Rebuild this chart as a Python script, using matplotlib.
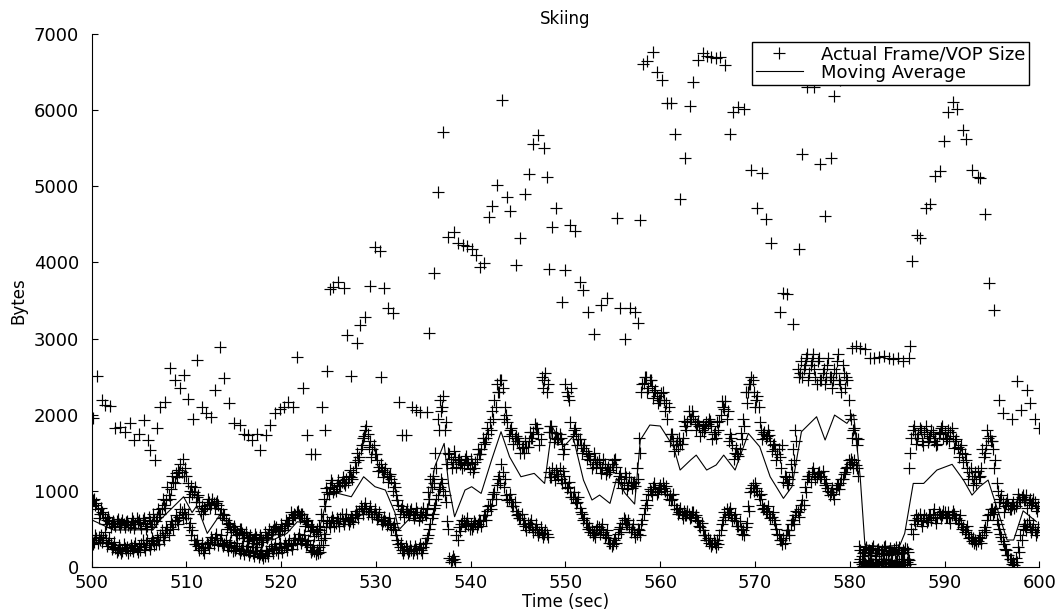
import numpy as np
import matplotlib.pyplot as plt

plt.rcParams['font.family'] = ['DejaVu Sans']

# large frames (time in sec, size in bytes)
i_time = [500.1, 500.6, 501.05, 501.4, 501.9, 502.5, 503.0, 503.5, 504.0, 504.5,
          505.0, 505.5, 505.9, 506.2, 506.7, 506.9, 507.2, 507.7, 508.3, 508.8,
          509.3, 509.7, 510.2, 510.7, 511.1, 511.6, 512.1, 512.6, 513.0, 513.5,
          514.0, 514.5, 515.0, 515.65, 516.1, 516.5, 516.9, 517.4, 517.8, 518.4,
          518.8, 519.3, 519.9, 520.3, 520.75, 521.3, 521.7, 522.3, 522.7, 523.2,
          523.6, 524.3, 524.6, 524.8, 525.1, 525.5, 526.0, 526.6, 526.9, 527.4,
          528.0, 528.3, 528.8, 529.4, 529.9, 530.4, 530.5, 530.8, 531.3, 531.8,
          532.4, 532.7, 533.2, 533.8, 534.2, 534.6, 535.35, 535.6, 536.1, 536.6,
          537.1, 537.6, 538.2, 538.7, 539.2, 539.6, 540.1, 540.6, 541.0, 541.4,
          541.9, 542.3, 542.8, 543.3, 543.8, 544.2, 544.8, 545.2, 545.7, 546.2,
          546.6, 547.1, 547.7, 548.1, 548.3, 548.6, 549.0, 549.6, 550.0, 550.5,
          551.0, 551.5, 551.9, 552.4, 553.0, 553.8, 554.4, 555.4, 555.8, 556.3,
          556.8, 557.3, 557.7, 557.9, 558.2, 558.6, 559.2, 559.7, 560.2, 560.7,
          561.1, 561.6, 562.1, 562.6, 563.1, 563.5, 564.0, 564.5, 564.9, 565.4,
          565.9, 566.3, 566.8, 567.4, 567.7, 568.2, 568.8, 569.6, 570.2, 570.7,
          571.2, 571.7, 572.6, 573.0, 573.4, 574.0, 574.6, 575.0, 575.5, 576.2,
          576.9, 577.4, 578.0, 578.3, 579.0, 580.2, 580.7, 581.1, 581.6, 582.1,
          582.6, 583.1, 583.6, 584.1, 584.6, 585.1, 585.6, 586.2, 586.4, 586.6,
          587.1, 587.4, 588.0, 588.5, 589.0, 589.5, 589.9, 590.4, 590.9, 591.3,
          591.9, 592.3, 592.9, 593.5, 593.7, 594.3, 594.7, 595.2, 595.7, 596.2,
          597.1, 597.6, 598.1, 598.7, 599.0, 599.6, 600.0]
i_size = [1960, 2510, 2200, 2130, 2110, 1820, 1840, 1780, 1890, 1670,
          1750, 1930, 1670, 1540, 1400, 1820, 2100, 2170, 2610, 2460,
          2350, 2520, 2210, 1940, 2720, 2100, 2020, 1970, 2330, 2890,
          2480, 2150, 1890, 1860, 1750, 1730, 1670, 1750, 1540, 1730,
          1860, 2020, 2080, 2100, 2170, 2100, 2760, 2350, 1730, 1490,
          1480, 2100, 1800, 2570, 3650, 3680, 3750, 3670, 3050, 2510,
          2940, 3180, 3290, 3690, 4200, 4150, 2490, 3670, 3400, 3330,
          2170, 1730, 1730, 2100, 2060, 2040, 2030, 3080, 3860, 4920,
          5720, 4340, 4400, 4260, 4230, 4210, 4180, 4100, 3940, 3990,
          4600, 4740, 5020, 6140, 4860, 4670, 3970, 4320, 4900, 5160,
          5550, 5680, 5510, 5120, 3920, 4460, 4720, 3480, 3900, 4490,
          4420, 3750, 3640, 3350, 3060, 3440, 3530, 4580, 3400, 2990,
          3400, 3350, 3210, 4560, 6610, 6640, 6770, 6500, 6400, 6090,
          6090, 5690, 4840, 5370, 6050, 6370, 6660, 6750, 6710, 6700,
          6690, 6700, 6600, 5690, 5980, 6040, 6020, 5210, 4710, 5180,
          4570, 4260, 3350, 3600, 3590, 3190, 4180, 5420, 6310, 6300,
          5300, 4610, 5370, 6190, 6400, 2880, 2900, 2880, 2860, 2740,
          2750, 2760, 2770, 2740, 2730, 2750, 2710, 2740, 2900, 4020,
          4360, 4320, 4710, 4770, 5130, 5200, 5590, 5970, 6110, 6010,
          5740, 5620, 5210, 5120, 5110, 4640, 3730, 3380, 2190, 2020,
          1950, 2440, 2060, 2330, 2150, 1950, 1820]

# mid-size frames, every 0.25 s from 500.125 (one row = 5 s)
p_size = [
    880, 820, 760, 700, 720, 650, 620, 600, 580, 560, 600, 570, 580, 560, 590, 550, 570, 600, 560, 590,
    560, 620, 580, 540, 600, 560, 620, 660, 700, 780, 820, 880, 950, 1020, 1120, 1230, 1280, 1350, 1420, 1300,
    1100, 1000, 960, 1050, 920, 860, 800, 780, 820, 850, 830, 840, 840, 810, 760, 700, 620, 560, 520, 500,
    480, 460, 500, 450, 420, 400, 380, 360, 370, 400, 350, 380, 360, 400, 420, 460, 480, 500, 470, 490,
    510, 540, 580, 620, 660, 700, 720, 680, 700, 650, 600, 560, 520, 480, 460, 440, 480, 620, 800, 980,
    1050, 1100, 1020, 1080, 1060, 1120, 1100, 1150, 1200, 1180, 1250, 1300, 1400, 1550, 1700, 1800, 1750, 1650, 1550, 1480,
    1400, 1320, 1280, 1250, 1220, 1200, 1150, 1100, 950, 820, 760, 740, 720, 700, 740, 690, 700, 720, 680, 660,
    700, 760, 900, 1050, 1100, 1300, 1800, 2050, 2250, 1900, 1500, 1420, 1380, 1450, 1400, 1350, 1300, 1420, 1380, 1290,
    1350, 1300, 1420, 1480, 1550, 1620, 1700, 1750, 1800, 1950, 2100, 2300, 2450, 2350, 2100, 1900, 1800, 1750, 1700, 1650,
    1620, 1560, 1500, 1580, 1650, 1700, 1780, 1820, 1750, 1680, 2350, 2550, 2400, 1850, 1780, 1700, 1680, 1750, 1620, 1550,
    2300, 2200, 2350, 1800, 1750, 1680, 1600, 1560, 1520, 1480, 1400, 1350, 1420, 1380, 1320, 1300, 1350, 1280, 1250, 1350,
    1400, 1320, 1200, 1150, 1100, 1180, 1080, 1120, 1100, 1060, 1150, 1500, 2400, 2500, 2300, 2450, 2380, 2300, 2250, 2200,
    2280, 2200, 2150, 2100, 1750, 1650, 1600, 1550, 1620, 1700, 1850, 1900, 1950, 2050, 1900, 1880, 1850, 1800, 1780, 1900,
    1950, 1850, 1750, 1700, 1800, 2000, 2100, 2180, 2050, 1750, 1600, 1500, 1480, 1550, 1680, 1850, 2150, 2400, 2500, 2300,
    2200, 2100, 1800, 1750, 1700, 1800, 1650, 1600, 1550, 1480, 1450, 1600, 1200, 1100, 1150, 1250, 1400, 1650, 2500, 2700,
    2600, 2750, 2450, 2650, 2800, 2500, 2700, 2450, 2550, 2400, 2650, 2500, 2350, 2600, 2700, 2450, 2300, 2550, 2500, 2200,
    1950, 1800, 1700, 1680, 220, 180, 240, 200, 160, 250, 190, 220, 180, 230, 260, 170, 210, 190, 240, 260,
    230, 180, 220, 250, 200, 1500, 1800, 1750, 1700, 1820, 1650, 1780, 1750, 1700, 1800, 1650, 1600, 1750, 1820, 1700,
    1680, 1800, 1780, 1720, 1650, 1580, 1550, 1500, 1480, 1300, 1250, 1200, 1150, 1100, 1180, 1300, 1450, 1600, 1700, 1650,
    1550, 1400, 1000, 900, 850, 800, 900, 760, 820, 780, 850, 900, 920, 880, 950, 850, 820, 900, 780, 800,
]

# second mid-size batch, every 0.25 s from 500.0
p2_size = [
    800, 900, 840, 640, 780, 700, 560, 660, 520, 610, 540, 630, 520, 620, 520, 610, 520, 650, 510, 640,
    620, 510, 640, 500, 660, 520, 700, 600, 760, 700, 900, 780, 1050, 900, 1200, 1100, 1180, 1250, 1250, 1200,
    1200, 920, 1060, 980, 860, 940, 740, 700, 760, 900, 780, 900, 780, 870, 700, 640, 680, 500, 580, 460,
    540, 420, 440, 500, 380, 460, 340, 420, 320, 440, 300, 420, 330, 460, 380, 500, 440, 540, 520, 440,
    560, 480, 620, 560, 720, 640, 680, 740, 640, 700, 540, 620, 470, 540, 410, 500, 540, 700, 900, 1040,
    960, 1140, 980, 1000, 1140, 1060, 1180, 1080, 1120, 1280, 1150, 1380, 1500, 1450, 1600, 1720, 1850, 1580, 1450, 1600,
    1480, 1260, 1350, 1180, 1300, 1120, 1220, 1000, 1050, 880, 700, 800, 660, 760, 680, 760, 640, 780, 620, 720,
    780, 680, 980, 1150, 1200, 1500, 1950, 2200, 2100, 1800, 1350, 1480, 1300, 1520, 1320, 1420, 1380, 1340, 1460, 1360,
    1420, 1250, 1380, 1550, 1480, 1700, 1640, 1820, 1900, 2050, 2200, 2400, 2300, 2450, 1950, 2000, 1720, 1820, 1620, 1720,
    1700, 1500, 1580, 1650, 1580, 1780, 1700, 1880, 1820, 1600, 2500, 2450, 2300, 1780, 1850, 1640, 1760, 1680, 1700, 1480,
    2400, 2250, 1900, 1720, 1820, 1600, 1680, 1500, 1600, 1420, 1460, 1300, 1500, 1320, 1400, 1240, 1420, 1220, 1320, 1280,
    1320, 1420, 1120, 1240, 1040, 1240, 1020, 1180, 1040, 1120, 1300, 1700, 2300, 2420, 2500, 2350, 2450, 2220, 2330, 2150,
    2200, 2300, 2050, 1950, 1650, 1750, 1520, 1650, 1700, 1620, 1920, 1800, 2050, 1950, 1980, 1800, 1920, 1720, 1860, 1820,
    1880, 1920, 1680, 1780, 1900, 1920, 2180, 2080, 1950, 1650, 1700, 1420, 1560, 1460, 1760, 1950, 2300, 2300, 2400, 2450,
    2100, 2250, 1900, 1680, 1780, 1720, 1740, 1520, 1620, 1400, 1550, 1300, 1120, 1180, 1080, 1350, 1550, 1800, 2600, 2550,
    2500, 2650, 2800, 2550, 2700, 2600, 2400, 2750, 2450, 2600, 2500, 2750, 2500, 2450, 2550, 2800, 2400, 2650, 2350, 2450,
    2000, 1700, 1820, 1600, 280, 140, 200, 260, 220, 180, 280, 150, 240, 190, 170, 280, 160, 250, 200, 180,
    170, 260, 190, 200, 240, 1300, 1700, 1850, 1620, 1750, 1800, 1600, 1850, 1640, 1720, 1780, 1700, 1620, 1760, 1850,
    1780, 1700, 1650, 1820, 1560, 1680, 1450, 1600, 1380, 1400, 1150, 1300, 1080, 1250, 1260, 1200, 1550, 1500, 1800, 1720,
    1650, 1300, 1100, 850, 950, 720, 840, 820, 760, 850, 800, 960, 860, 940, 880, 780, 900, 840, 860, 740,
]

# small frames, every 0.25 s from 500.0 (one row = 5 s)
b_size = [
    360, 330, 380, 400, 420, 380, 350, 310, 300, 260, 250, 230, 240, 210, 250, 260, 230, 250, 270, 240,
    280, 300, 260, 310, 290, 320, 340, 300, 360, 420, 400, 450, 480, 520, 560, 600, 620, 660, 720, 760,
    640, 520, 420, 360, 300, 270, 250, 230, 260, 300, 330, 360, 380, 350, 360, 320, 300, 280, 290, 260,
    270, 250, 240, 230, 220, 230, 210, 200, 190, 210, 180, 170, 160, 150, 190, 220, 240, 250, 230, 260,
    250, 270, 280, 300, 290, 320, 360, 380, 370, 360, 340, 300, 260, 230, 210, 230, 260, 350, 440, 520,
    580, 600, 620, 580, 600, 640, 610, 630, 620, 600, 650, 680, 700, 740, 760, 780, 760, 740, 720, 700,
    690, 660, 620, 600, 610, 580, 560, 520, 480, 360, 260, 230, 220, 240, 210, 230, 220, 240, 250, 230,
    260, 320, 420, 560, 700, 820, 950, 1050, 1100, 950, 600, 120, 90, 100, 420, 520, 560, 600, 580, 550,
    560, 540, 580, 560, 600, 620, 680, 740, 820, 900, 980, 1080, 1200, 1350, 1050, 950, 900, 860, 800, 740,
    700, 640, 560, 540, 580, 560, 520, 500, 480, 460, 450, 430, 440, 1250, 1180, 1220, 1280, 1200, 1150, 1260,
    1100, 1050, 980, 920, 900, 860, 780, 700, 640, 580, 520, 480, 450, 480, 520, 500, 460, 420, 380, 320,
    300, 380, 440, 520, 580, 620, 560, 520, 500, 460, 440, 480, 560, 700, 880, 960, 1000, 1050, 1020, 980,
    1080, 1100, 1000, 960, 950, 900, 820, 760, 720, 700, 740, 680, 700, 660, 720, 680, 600, 520, 480, 420,
    380, 350, 300, 320, 360, 420, 560, 720, 760, 720, 680, 650, 600, 540, 500, 480, 520, 800, 980, 1080,
    1100, 1000, 900, 820, 780, 740, 700, 660, 620, 500, 420, 360, 380, 420, 480, 560, 620, 680, 720, 760,
    880, 1050, 1150, 1200, 1250, 1220, 1180, 1250, 1200, 1150, 1100, 1000, 980, 960, 1020, 1080, 1100, 1150, 1250, 1320,
    1350, 1380, 1400, 1300, 60, 40, 80, 30, 50, 70, 40, 60, 30, 80, 50, 40, 70, 40, 60, 30,
    50, 80, 40, 70, 60, 90, 500, 620, 680, 640, 600, 620, 650, 620, 680, 700, 640, 660, 700, 680,
    720, 660, 640, 680, 700, 640, 620, 560, 520, 480, 440, 400, 380, 360, 340, 380, 420, 520, 620, 700,
    760, 720, 620, 500, 400, 300, 220, 160, 100, 60, 120, 260, 420, 500, 540, 560, 520, 500, 480, 460,
]

# second small batch, every 0.25 s from 500.125
b2_size = [
    300, 420, 310, 350, 330, 460, 280, 380, 240, 330, 200, 290, 190, 300, 220, 190, 290, 210, 320, 200,
    230, 350, 220, 360, 240, 380, 290, 400, 300, 480, 350, 530, 420, 600, 500, 680, 560, 760, 650, 690,
    700, 580, 480, 300, 360, 220, 310, 190, 320, 250, 390, 300, 440, 290, 420, 270, 360, 230, 330, 210,
    220, 310, 190, 280, 170, 280, 160, 260, 140, 260, 130, 230, 120, 210, 140, 280, 190, 300, 180, 310,
    200, 320, 230, 360, 240, 380, 300, 440, 320, 420, 290, 360, 200, 290, 170, 180, 200, 290, 380, 600,
    520, 660, 540, 650, 540, 700, 560, 690, 560, 660, 590, 740, 640, 800, 700, 840, 700, 800, 660, 760,
    630, 720, 560, 660, 550, 640, 500, 580, 420, 300, 320, 180, 280, 190, 270, 180, 280, 190, 300, 190,
    320, 380, 500, 640, 780, 900, 1020, 1150, 1000, 850, 500, 60, 140, 60, 360, 470, 620, 540, 640, 500,
    500, 600, 520, 620, 540, 680, 620, 800, 760, 960, 900, 1150, 1100, 1250, 1150, 880, 960, 800, 860, 680,
    640, 700, 620, 480, 520, 620, 460, 560, 420, 520, 390, 480, 400, 1180, 1300, 1140, 1220, 1300, 1100, 1200,
    1040, 1120, 920, 980, 840, 920, 720, 620, 580, 500, 460, 420, 400, 540, 440, 560, 400, 480, 320, 280,
    360, 320, 500, 460, 640, 560, 620, 460, 560, 400, 500, 420, 620, 780, 820, 1020, 940, 1100, 960, 1040,
    1020, 1040, 1060, 900, 880, 960, 760, 700, 780, 640, 680, 740, 640, 720, 660, 620, 540, 580, 420, 360,
    320, 280, 360, 260, 300, 480, 620, 660, 700, 780, 620, 700, 540, 600, 440, 420, 580, 740, 1040, 1000,
    1040, 940, 960, 760, 720, 800, 640, 720, 560, 440, 360, 300, 320, 480, 420, 620, 560, 740, 660, 820,
    820, 980, 1200, 1120, 1300, 1160, 1240, 1180, 1260, 1080, 1040, 940, 1040, 900, 1080, 1020, 1160, 1220, 1300, 1400,
    1420, 1300, 1340, 1200, 110, 20, 50, 90, 20, 40, 100, 30, 60, 40, 110, 20, 40, 90, 30, 80,
    20, 40, 100, 30, 110, 40, 440, 560, 620, 700, 540, 680, 590, 680, 620, 760, 580, 720, 640, 740,
    660, 720, 580, 740, 640, 580, 680, 500, 460, 540, 380, 340, 320, 300, 400, 320, 480, 460, 680, 760,
    700, 780, 560, 440, 340, 240, 160, 100, 40, 30, 60, 200, 360, 560, 480, 620, 460, 560, 420, 520,
]

# moving average
ma_time = [500.0, 502.3, 506.5, 507.2, 509.7, 510.6, 511.1, 512.2, 513.4, 515.7,
           517.8, 519.2, 520.6, 521.7, 522.8, 523.9, 525.0, 526.0, 527.4, 528.7,
           529.9, 531.0, 532.0, 532.4, 533.4, 534.8, 535.4, 536.2, 537.2, 537.7,
           538.3, 539.4, 540.1, 541.1, 542.2, 543.2, 544.1, 545.3, 546.7, 547.8,
           548.6, 549.8, 550.8, 551.9, 552.8, 553.6, 554.7, 555.4, 556.3, 557.3,
           557.9, 558.9, 560.0, 561.4, 562.1, 563.2, 563.8, 564.9, 565.9, 566.7,
           567.9, 569.3, 570.5, 571.6, 573.0, 573.9, 574.9, 576.5, 577.4, 578.4,
           579.7, 580.4, 581.1, 581.6, 583.5, 585.3, 585.8, 586.7, 587.8, 589.2,
           590.8, 592.0, 592.9, 593.7, 594.6, 595.5, 596.6, 597.3, 598.3, 599.7]
ma_size = [620, 486, 490, 617, 923, 716, 805, 442, 661, 486,
           355, 360, 442, 595, 573, 442, 967, 967, 923, 1186,
           1055, 1011, 716, 486, 617, 595, 716, 1317, 1624, 1055,
           661, 1011, 1055, 967, 1405, 1777, 1448, 1186, 1230, 1098,
           1843, 1580, 1712, 1142, 880, 945, 836, 1164, 967, 827,
           1668, 1865, 1852, 1580, 1274, 1405, 1470, 1274, 1340, 1470,
           1274, 1755, 1580, 1186, 902, 1055, 1777, 1974, 1668, 1996,
           1887, 2009, 1186, 289, 267, 289, 442, 1098, 1098, 1274,
           1349, 1142, 945, 1055, 1142, 792, 355, 355, 738, 595]

p_time = 500.125 + 0.25 * np.arange(len(p_size))
p2_time = 500.0 + 0.25 * np.arange(len(p2_size))
b_time = 500.0 + 0.25 * np.arange(len(b_size))
b2_time = 500.125 + 0.25 * np.arange(len(b2_size))

frame_time = np.concatenate([i_time, p_time, p2_time, b_time, b2_time])
frame_size = np.concatenate([i_size, p_size, p2_size, b_size, b2_size])

fig = plt.figure(figsize=(10.62, 6.14), dpi=100)
ax = fig.add_axes([0.0863, 0.0765, 0.8923, 0.868])

pts, = ax.plot(frame_time, frame_size, '+', color='k', ms=9, mew=0.85)
avg, = ax.plot(ma_time, ma_size, '-', color='k', lw=0.8)

ax.set_xlim(500, 600)
ax.set_ylim(0, 7000)
ax.set_xticks(np.arange(500, 601, 10))
ax.set_yticks(np.arange(0, 7001, 1000))
for s in ['top', 'right']:
    ax.spines[s].set_visible(False)
ax.tick_params(direction='in', length=4, width=0.8, labelsize=13)
ax.tick_params(axis='y', pad=9)
ax.tick_params(axis='x', pad=5)

ax.set_title('Skiing', fontsize=12, pad=7)
ax.set_xlabel('Time (sec)', fontsize=12, labelpad=1)
ax.set_ylabel('Bytes', fontsize=12, labelpad=5)

leg = ax.legend([pts, avg], ['Actual Frame/VOP Size', 'Moving Average'],
                loc='upper right', bbox_to_anchor=(0.989, 0.985),
                fontsize=13, fancybox=False, framealpha=1, edgecolor='k',
                borderpad=0.2, labelspacing=0.0, handlelength=2.6,
                handletextpad=1.0, borderaxespad=0)
leg.get_frame().set_linewidth(1.0)

fig.savefig('out.png', dpi=100)
